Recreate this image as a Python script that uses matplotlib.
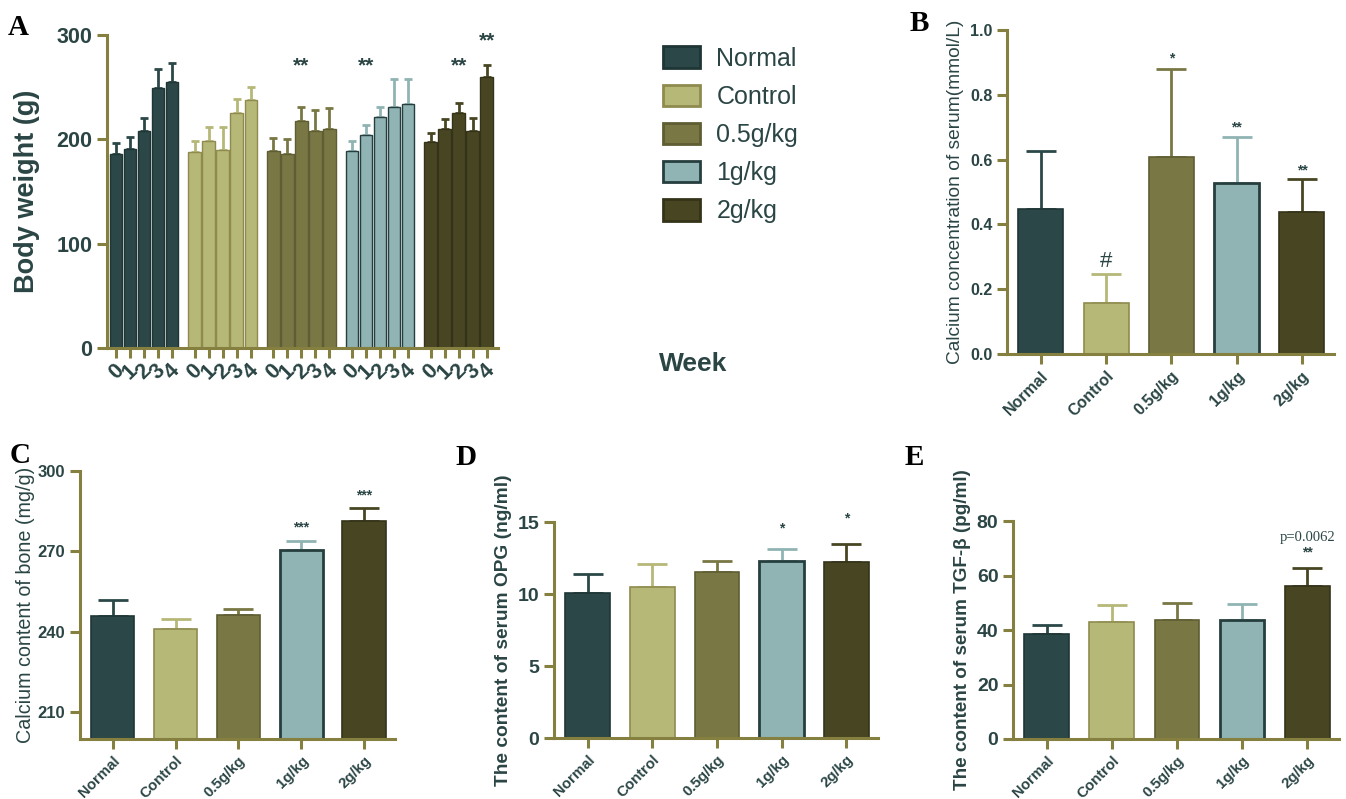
import matplotlib
matplotlib.use('Agg')
import numpy as np
import matplotlib.pyplot as plt
from matplotlib.patches import Patch

plt.rcParams['font.family'] = ['Liberation Sans', 'DejaVu Sans']

groups = ['Normal', 'Control', '0.5g/kg', '1g/kg', '2g/kg']
weeks = ['0', '1', '2', '3', '4']

# panel A: body weight (g), week 0-4 per group
bw_mean = [[186, 191, 208, 249, 255],
           [188, 198, 190, 225, 238],
           [189, 186, 218, 208, 210],
           [189, 204, 221, 231, 234],
           [197, 210, 225, 208, 260]]
bw_sd = [[10, 11, 12, 18, 18],
         [10, 14, 22, 14, 12],
         [12, 14, 13, 20, 20],
         [9, 10, 10, 27, 24],
         [9, 9, 10, 12, 11]]
bw_sig = [(2, 2, '**'), (3, 1, '**'), (4, 2, '**'), (4, 4, '**')]

# panel B: serum calcium (mmol/L)
ca_serum = [0.447, 0.156, 0.609, 0.527, 0.437]
ca_serum_sd = [0.181, 0.091, 0.270, 0.142, 0.102]
ca_serum_sig = ['', '#', '*', '**', '**']

# panel C: bone calcium (mg/g)
ca_bone = [245.9, 240.9, 246.2, 270.4, 281.5]
ca_bone_sd = [5.9, 3.8, 2.3, 3.6, 4.8]
ca_bone_sig = ['', '', '', '***', '***']

# panel D: serum OPG (ng/ml)
opg = [10.04, 10.48, 11.52, 12.28, 12.21]
opg_sd = [1.38, 1.59, 0.78, 0.84, 1.29]
opg_sig = ['', '', '', '*', '*']

# panel E: serum TGF-b (pg/ml)
tgf = [38.4, 42.8, 43.7, 43.7, 56.1]
tgf_sd = [3.3, 6.4, 6.3, 5.8, 6.8]

fills = ['#2c4747', '#b6b878', '#797844', '#90b4b3', '#484622']
edges = ['#1f3636', '#8f8b4f', '#5e5d33', '#263e3e', '#34331a']
errc = ['#2c4747', '#b6b878', '#797844', '#90b4b3', '#484622']
axc = '#85803f'
txt = '#2b4545'

fig = plt.figure(figsize=(13.46, 7.99), dpi=100)


def style(ax, fs):
    for s in ['top', 'right']:
        ax.spines[s].set_visible(False)
    for s in ['left', 'bottom']:
        ax.spines[s].set_color(axc)
        ax.spines[s].set_linewidth(2.2)
    ax.tick_params(colors=axc, width=2.2, length=7, labelcolor=txt, labelsize=fs)
    for lab in ax.get_yticklabels() + ax.get_xticklabels():
        lab.set_fontweight('bold')


def bar_panel(ax, vals, sd, sig, sig_y, fs_sig=10):
    x = np.arange(len(vals))
    for i in x:
        ax.bar(i, vals[i], width=0.69, color=fills[i], edgecolor=edges[i],
               linewidth=2 if i == 3 else 1.2, zorder=2)
        ax.errorbar(i, vals[i], yerr=[[0], [sd[i]]], color=errc[i], capsize=11,
                    capthick=2, elinewidth=2, zorder=1)
        if sig[i]:
            ax.text(i, sig_y[i], sig[i], ha='center', va='center', color=txt,
                    fontsize=fs_sig, fontweight='bold', clip_on=False)
    ax.set_xlim(-0.52, 4.49)
    ax.set_xticks(x)
    ax.set_xticklabels(groups, rotation=45, ha='right', rotation_mode='anchor')


# ---- A ----
axA = fig.add_axes([0.0795, 0.5645, 0.2905, 0.3917])
gstep = 5.6
ticks = []
for g in range(5):
    xs = g * gstep + np.arange(5)
    ticks += list(xs)
    axA.bar(xs, bw_mean[g], width=0.9, color=fills[g], edgecolor=edges[g],
            linewidth=1.0, zorder=2)
    axA.errorbar(xs, bw_mean[g], yerr=[np.zeros(5), bw_sd[g]], fmt='none',
                 ecolor=errc[g], capsize=3, capthick=2, elinewidth=2, zorder=1)
for g, w, s in bw_sig:
    yy = 294 if w == 4 else 270
    axA.text(g * gstep + w, yy, s, ha='center', va='center', color=txt,
             fontsize=15, fontweight='bold', clip_on=False)
axA.set_ylim(0, 300)
axA.set_yticks([0, 100, 200, 300])
axA.set_xlim(-0.64, 4 * gstep + 4.8)
axA.set_xticks(ticks)
axA.set_xticklabels(weeks * 5, rotation=45)
style(axA, 15.5)
axA.tick_params(axis='x', pad=2)
axA.set_ylabel('Body weight (g)', fontsize=19.5, fontweight='bold', color=txt, labelpad=12)
fig.text(0.515, 0.545, 'Week', fontsize=19, fontweight='bold', color=txt, ha='center', va='center')

handles = [Patch(facecolor=fills[i], edgecolor=edges[i], linewidth=2) for i in range(5)]
fig.legend(handles, groups, loc='upper left', bbox_to_anchor=(0.4755, 0.970), frameon=False,
           fontsize=18, labelcolor=txt, handlelength=1.5, handleheight=0.95,
           labelspacing=0.55, handletextpad=0.65)

# ---- B ----
axB = fig.add_axes([0.7481, 0.5569, 0.2429, 0.4055])
bar_panel(axB, ca_serum, ca_serum_sd, ca_serum_sig, [0, 0.285, 0.913, 0.70, 0.568])
axB.texts[0].set_fontweight('normal')
axB.texts[0].set_fontsize(16)
axB.set_ylim(0, 1.0)
axB.set_yticks([0, 0.2, 0.4, 0.6, 0.8, 1.0])
axB.set_yticklabels(['0.0', '0.2', '0.4', '0.6', '0.8', '1.0'])
style(axB, 11.5)
axB.tick_params(axis='x', labelsize=11.5)
axB.set_ylabel('Calcium concentration of serum(mmol/L)', fontsize=13.8, color=txt, labelpad=4)

# ---- C ----
axC = fig.add_axes([0.0594, 0.0751, 0.234, 0.3354])
bar_panel(axC, ca_bone, ca_bone_sd, ca_bone_sig, [0, 0, 0, 278.8, 291])
axC.set_ylim(200, 300)
axC.set_yticks([210, 240, 270, 300])
style(axC, 12)
axC.tick_params(axis='x', labelsize=10.8)
axC.set_ylabel('Calcium content of bone (mg/g)', fontsize=14.2, color=txt, labelpad=2)

# ---- D ----
axD = fig.add_axes([0.4116, 0.0763, 0.2407, 0.2703])
bar_panel(axD, opg, opg_sd, opg_sig, [0, 0, 0, 14.58, 15.28])
axD.set_ylim(0, 15)
axD.set_yticks([0, 5, 10, 15])
style(axD, 14)
axD.tick_params(axis='x', labelsize=10.8)
axD.set_ylabel('The content of serum OPG (ng/ml)', fontsize=13.8, fontweight='bold', color=txt)

# ---- E ----
axE = fig.add_axes([0.7526, 0.0751, 0.2422, 0.2728])
bar_panel(axE, tgf, tgf_sd, ['', '', '', '', '**'], [0, 0, 0, 0, 68.6])
axE.text(4, 73.8, 'p=0.0062', ha='center', va='center', color=txt, fontsize=10.5,
         family='Liberation Serif')
axE.set_ylim(0, 80)
axE.set_yticks([0, 20, 40, 60, 80])
style(axE, 14)
axE.tick_params(axis='x', labelsize=10.8)
axE.set_ylabel('The content of serum TGF-β (pg/ml)', fontsize=13.6, fontweight='bold', color=txt)

for lab, x, y in [('A', 0.006, 0.965), ('B', 0.676, 0.970), ('C', 0.007, 0.430),
                  ('D', 0.338, 0.428), ('E', 0.672, 0.428)]:
    fig.text(x, y, lab, fontsize=21, fontweight='bold', family='Liberation Serif',
             ha='left', va='center')

fig.savefig('out.png', dpi=100)
